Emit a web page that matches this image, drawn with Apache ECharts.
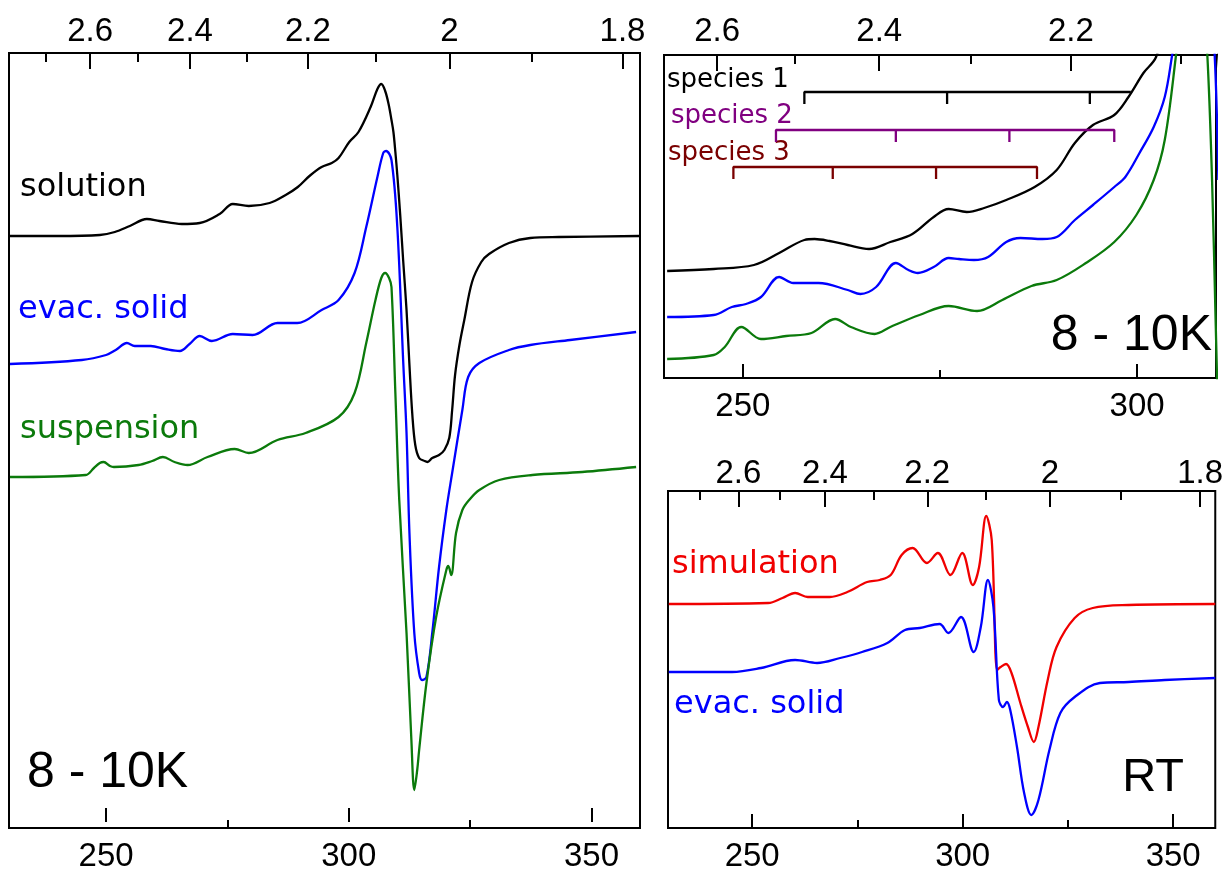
<!DOCTYPE html>
<html>
<head>
<meta charset="utf-8">
<title>EPR spectra</title>
<script src="https://cdn.jsdelivr.net/npm/echarts@6/dist/echarts.min.js"></script>
<style>
	html, body { margin: 0; padding: 0; background: #fff; }
	#chart { width: 1226px; height: 878px; }
</style>
</head>
<body>
<div id="chart"></div>
<script>
// field in mT, intensity in arbitrary units (offset traces)
var K = 641.5; // B[mT] * g at the microwave frequency used

var gMajor = [2.6, 2.4, 2.2, 2.0, 1.8];
var gMinor = [2.7, 2.5, 2.3, 2.1, 1.9];
var fieldMajor = [250, 300, 350];
var fieldMinor = [275, 325];

// 8 - 10K, full sweep
var solution8K = [[230.2,586],[240,586],[248.7,587],[251.8,590],[254.9,596],[258.4,603],[261.0,601],[265.6,598],[269.3,599],[273.4,608],[276.1,618],[279.4,616],[283.7,619],[287.0,627],[289.5,635],[291.9,646],[294.4,655],[296.5,659],[297.9,664],[300.1,680],[302.0,690],[304.5,715],[305.9,733],[306.7,738],[307.5,731],[308.2,718],[308.8,702],[309.2,690],[309.6,670],[310.0,647],[310.6,607],[311.2,562],[311.9,512],[312.5,457],[313.1,407],[313.7,377],[314.5,364],[315.6,361],[316.2,360],[317.2,364],[318.6,367],[319.7,372],[320.7,384],[321.3,412],[321.9,447],[322.8,477],[323.8,502],[325.4,540],[327.3,560],[328.9,568],[333.0,579],[337.4,584],[343.3,585],[359.8,586]];
var evacSolid8K = [[230.2,458],[245.0,462],[250.0,467],[252.0,472],[254.3,479],[255.9,476],[259.2,476],[262.2,473],[265.2,471],[267.2,478],[269.3,486],[271.8,481],[276.1,488],[280.2,487],[285.3,499],[289.4,499],[294.4,512],[297.9,522],[301.2,549],[303.6,595],[305.9,645],[307.1,669],[307.7,671],[308.8,662],[310.0,595],[311.2,462],[311.9,389],[312.5,289],[313.5,189],[314.5,149],[315.1,142],[316.0,145],[317.2,189],[318.6,255],[320.1,312],[321.3,349],[323.4,412],[324.6,445],[326.9,459],[333.0,472],[337.4,477],[345.6,482],[359.2,490]];
var suspension8K = [[230.2,345],[245.8,347],[247.5,354],[248.7,359],[249.5,360],[250.8,356],[251.6,355],[256.7,357],[259.5,361],[261.7,365],[264.1,360],[266.8,357],[270.9,365],[276.5,373],[279.4,369],[285.3,382],[291.1,389],[297.9,405],[301.2,429],[303.6,479],[305.5,522],[306.7,544],[307.5,549],[308.3,544],[308.8,535],[309.6,429],[310.4,322],[311.9,189],[312.9,82],[313.5,32],[314.1,52],[314.5,72],[316.0,139],[318.0,205],[320.1,252],[320.5,256],[321.1,247],[322.1,289],[323.4,312],[324.8,322],[326.9,332],[331.0,342],[337.8,347],[348.1,350],[359.2,355]];

// 8 - 10K, low field expansion
var solutionZoom = [[240.4,109],[246.3,111],[251.4,115],[254.6,127],[257.8,140],[259.1,141],[261.0,139],[263.3,135],[266.0,131],[268.7,138],[271.5,146],[274.2,163],[276.1,171],[278.4,168],[280.6,172],[283.4,180],[287.0,193],[289.8,210],[292.1,237],[294.4,255],[297.1,265],[298.9,283],[300.8,307],[302.4,323],[303.5,360],[305.0,420],[306.7,460],[308.2,440],[309.5,390],[310.5,300]];
var evacSolidZoom = [[240.4,63],[246.3,65],[248.6,73],[250.4,76],[252.3,83],[254.6,103],[256.4,97],[259.6,97],[263.3,90],[264.9,86],[266.9,93],[269.4,117],[271.0,110],[272.2,107],[274.2,113],[276.1,122],[277.4,121],[279.3,120],[281.1,123],[283.4,138],[285.2,142],[288.0,141],[289.8,143],[292.1,160],[294.4,175],[297.1,193],[298.5,203],[300.3,227],[302.1,253],[303.5,283],[304.4,323],[305.5,380],[307.5,440],[309.0,400],[309.8,330],[310.3,200]];
var suspensionZoom = [[240.4,21],[246.3,25],[247.7,33],[249.8,53],[252.3,41],[255.5,44],[258.7,47],[261.7,61],[263.7,53],[266.7,46],[268.7,53],[272.4,65],[276.1,74],[279.7,69],[282.9,80],[286.6,94],[289.8,100],[293.5,117],[297.1,138],[299.9,165],[302.1,200],[303.5,240],[304.9,323],[306.0,400],[307.5,440],[308.3,380],[308.9,325],[309.5,200],[309.95,60],[310.3,-50]];

// stick diagrams, line positions in mT
var species1 = [257.8, 275.9, 294.0];
var species1End = 299.2;
var species2 = [254.2, 269.4, 283.8, 297.1];
var species3 = [248.8, 261.4, 274.5, 287.3];

// room temperature
var simulationRT = [[230.2,224],[253.8,225],[257.2,230],[260.2,235],[263.2,231],[268.4,231],[272.6,236],[277.3,246],[280.3,248],[282.9,253],[285.5,273],[288.1,280],[291.5,265],[294.1,275],[297.1,253],[299.9,275],[302.4,243],[303.9,261],[305.6,312],[306.9,288],[308.2,158],[309.0,161],[310.3,164],[311.6,155],[313.7,125],[315.5,101],[316.9,86],[318.0,101],[320.2,148],[322.3,181],[326.6,210],[330.9,220],[339.4,223],[360,224]];
var evacSolidRT = [[230.2,156],[245.2,156],[252.1,160],[260.2,168],[265.4,165],[270.9,170],[276.1,176],[282.1,185],[286.3,198],[289.8,200],[294.5,204],[296.6,195],[299.6,211],[302.6,176],[304.3,201],[306.0,248],[307.3,221],[308.6,128],[309.6,121],[310.5,126],[311.3,118],[312.9,81],[314.6,35],[316.3,13],[318.0,28],[320.6,78],[323.2,115],[326.6,131],[332.6,145],[339.4,146],[348.0,148],[360,150]];

var BLACK = '#000000', BLUE = '#0000ff', GREEN = '#0b7a0b', RED = '#f00000';
var PURPLE = '#800080', DARKRED = '#7a0000';
var FONT = '"Liberation Sans", Arial, sans-serif';
var LABEL_FONT = '"DejaVu Sans", sans-serif';

var panels = [
	{grid: {left: 9, top: 53, width: 631, height: 775}, x: [230, 360], y: [-6, 769], topMargin: 5},
	{grid: {left: 664, top: 55, width: 552, height: 323}, x: [240, 310], y: [2, 325], topMargin: 7},
	{grid: {left: 668, top: 491, width: 548, height: 337}, x: [230, 360], y: [0, 337], topMargin: 1}
];

function inRange(list, r) {
	return list.filter(function (v) { return v >= r[0] && v <= r[1]; });
}
function gToField(list) {
	return list.map(function (g) { return K / g; });
}
function gLabel(v) {
	return String(Math.round(K / v * 10) / 10);
}

function axis(p, i, position, values, len, label) {
	return {
		gridIndex: i, type: 'value', position: position,
		min: p.x[0], max: p.x[1],
		axisLine: {show: false}, splitLine: {show: false},
		axisTick: {show: true, inside: true, length: len, customValues: values,
			lineStyle: {color: BLACK, width: 2}},
		axisLabel: label ? {show: true, customValues: values, color: BLACK, fontSize: 33,
			fontFamily: FONT, margin: label.margin, formatter: label.formatter} : {show: false}
	};
}

var grids = [], xAxes = [], yAxes = [];
panels.forEach(function (p, i) {
	grids.push(Object.assign({show: true, borderColor: BLACK, borderWidth: 2, backgroundColor: 'transparent'}, p.grid));
	xAxes.push(axis(p, i, 'bottom', inRange(fieldMajor, p.x), 14, {margin: 12}));
	xAxes.push(axis(p, i, 'bottom', inRange(fieldMinor, p.x), 8, null));
	xAxes.push(axis(p, i, 'top', inRange(gToField(gMajor), p.x), 16, {margin: p.topMargin, formatter: gLabel}));
	xAxes.push(axis(p, i, 'top', inRange(gToField(gMinor), p.x), 9, null));
	yAxes.push({gridIndex: i, type: 'value', min: p.y[0], max: p.y[1], show: false});
});

function trace(name, panel, data, color) {
	return {
		name: name, type: 'line', xAxisIndex: panel * 4, yAxisIndex: panel,
		data: data, showSymbol: false, symbol: 'none', smooth: 0.35,
		lineStyle: {color: color, width: 2.3, join: 'round'}, silent: true
	};
}

// bracket: horizontal line with short ticks hanging down at each position
function sticks(name, lines, end, level, color) {
	var drop = 12, pts = [[lines[0], level - drop], [lines[0], level]];
	for (var k = 1; k < lines.length; k++) {
		pts.push([lines[k], level], [lines[k], level - drop], [lines[k], level]);
	}
	if (end > lines[lines.length - 1]) pts.push([end, level]);
	return {
		name: name, type: 'line', xAxisIndex: 4, yAxisIndex: 1, data: pts,
		showSymbol: false, symbol: 'none', lineStyle: {color: color, width: 2.3}, silent: true
	};
}

function label(text, x, y, color, size, family, align) {
	return {
		type: 'text', x: x, y: y, silent: true,
		style: {text: text, fill: color, fontSize: size, fontFamily: family,
			align: align || 'left', verticalAlign: 'middle'}
	};
}

var option = {
	animation: false,
	backgroundColor: '#ffffff',
	grid: grids,
	xAxis: xAxes,
	yAxis: yAxes,
	series: [
		trace('solution', 0, solution8K, BLACK),
		trace('evac. solid', 0, evacSolid8K, BLUE),
		trace('suspension', 0, suspension8K, GREEN),
		trace('solution', 1, solutionZoom, BLACK),
		trace('evac. solid', 1, evacSolidZoom, BLUE),
		trace('suspension', 1, suspensionZoom, GREEN),
		sticks('species 1', species1, species1End, 288, BLACK),
		sticks('species 2', species2, 0, 250, PURPLE),
		sticks('species 3', species3, 0, 213, DARKRED),
		trace('simulation', 2, simulationRT, RED),
		trace('evac. solid', 2, evacSolidRT, BLUE)
	],
	graphic: [
		label('solution', 20, 188, BLACK, 32, LABEL_FONT),
		label('evac. solid', 18, 310, BLUE, 32, LABEL_FONT),
		label('suspension', 20, 430, GREEN, 32, LABEL_FONT),
		label('8 - 10K', 27, 773, BLACK, 50, FONT),
		label('species 1', 667, 80, BLACK, 26, LABEL_FONT),
		label('species 2', 671, 116, PURPLE, 26, LABEL_FONT),
		label('species 3', 668, 153, DARKRED, 26, LABEL_FONT),
		label('8 - 10K', 1212, 336, BLACK, 50, FONT, 'right'),
		label('simulation', 672, 565, RED, 32, LABEL_FONT),
		label('evac. solid', 674, 705, BLUE, 32, LABEL_FONT),
		label('RT', 1184, 778, BLACK, 47, FONT, 'right')
	]
};

var myChart = echarts.init(document.getElementById('chart'));
myChart.setOption(option);
window.addEventListener('resize', function () {
	myChart.resize();
});
</script>
</body>
</html>
